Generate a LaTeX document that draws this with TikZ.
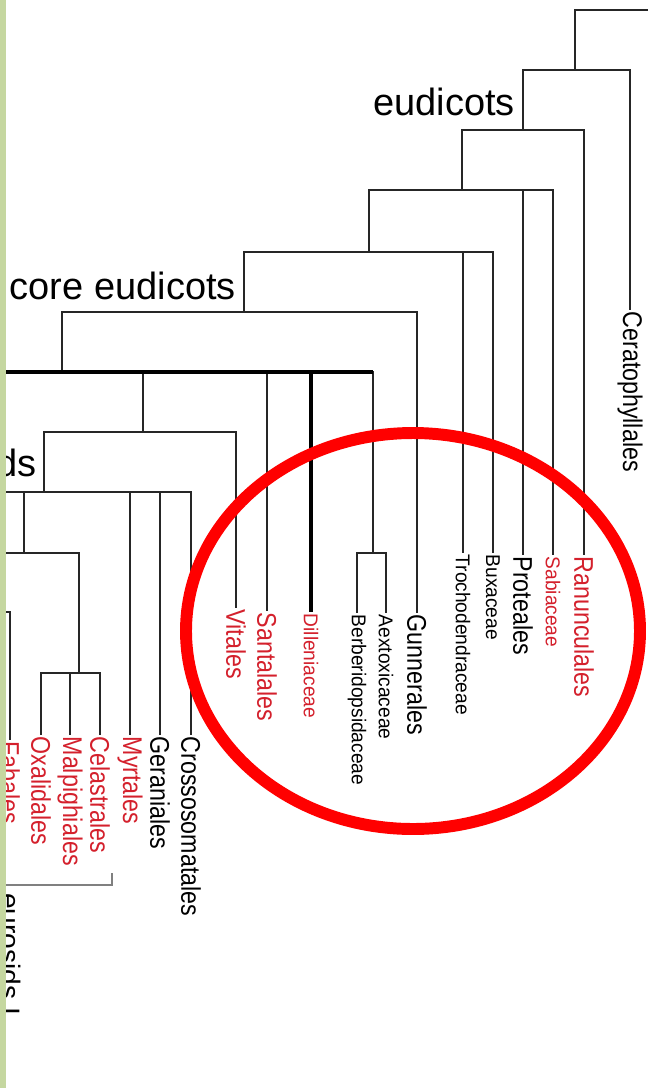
\documentclass[tikz,border=0pt]{standalone}
\usepackage{fontspec}
\setmainfont{Liberation Sans}
\newfontfamily\leaffont[FakeStretch=0.86]{Liberation Sans}
\newfontfamily\smallleaffont[FakeStretch=0.96]{Liberation Sans}
\definecolor{taxonred}{RGB}{212,32,44}
\definecolor{slidegreen}{RGB}{197,215,160}

\begin{document}
\begin{tikzpicture}[x=0.025cm, y=-0.025cm,
    branch/.style={line width=1.4pt, black!85},
    spine/.style={line width=3pt, black},
    leaf/.style={rotate=-90, anchor=west, inner sep=1pt,
        font=\leaffont\fontsize{19.2pt}{20pt}\selectfont},
    smallleaf/.style={leaf, font=\smallleaffont\fontsize{14.2pt}{15pt}\selectfont},
    clade/.style={anchor=east, inner sep=0pt, font=\fontsize{27pt}{28pt}\selectfont},
    hot/.style={text=taxonred},
    bracket/.style={line width=0.8pt, black!50}]
    \useasboundingbox (0,0) rectangle (648,1088);
    \fill[white] (0,0) rectangle (648,1088);
    \clip (0,0) rectangle (648,1088);

    % Branching points
    \coordinate (top) at (660,10);
    \coordinate (n1) at (575,70);
    \coordinate (eud) at (523,130);
    \coordinate (n3) at (462,190);
    \coordinate (n4) at (369,252);
    \coordinate (core) at (244,312);
    \coordinate (n6) at (62,372);
    \coordinate (berb) at (373,553);
    \coordinate (n7) at (143,432);
    \coordinate (ros) at (44,492);
    \coordinate (n10) at (24,553);
    \coordinate (n11) at (79,673);
    \coordinate (n12) at (-4,612);
    \coordinate (w6) at (-10,372);
    \coordinate (w9) at (-10,492);

    % Leaves
    \node[leaf] (cer) at (630,310) {Ceratophyllales};
    \node[leaf, hot] (ran) at (584,555) {Ranunculales};
    \node[smallleaf, hot] (sab) at (553,555) {Sabiaceae};
    \node[leaf] (pro) at (523,555) {Proteales};
    \node[smallleaf] (bux) at (493,553) {Buxaceae};
    \node[smallleaf] (tro) at (463,553) {Trochodendraceae};
    \node[leaf] (gun) at (417,613) {Gunnerales};
    \node[smallleaf] (aex) at (386,613) {Aextoxicaceae};
    \node[smallleaf] (ber) at (357,613) {Berberidopsidaceae};
    \node[smallleaf, hot] (dil) at (311,612) {Dilleniaceae};
    \node[leaf, hot] (san) at (267,611) {Santalales};
    \node[leaf, hot] (vit) at (236,608) {Vitales};
    \node[leaf] (cro) at (191,735) {Crossosomatales};
    \node[leaf] (ger) at (160,735) {Geraniales};
    \node[leaf, hot] (myr) at (130,735) {Myrtales};
    \node[leaf, hot] (cel) at (100,735) {Celastrales};
    \node[leaf, hot] (mal) at (70,735) {Malpighiales};
    \node[leaf, hot] (oxa) at (41,735) {Oxalidales};
    \node[leaf, hot] (fab) at (10,740) {Fabales};

    % Branches
    \draw[branch] (top) -| (n1);
    \draw[branch] (n1) -| (cer.west);
    \draw[branch] (n1) -| (eud);
    \draw[branch] (eud) -| (ran.west);
    \draw[branch] (eud) -| (n3);
    \draw[branch] (n3) -| (n4);
    \draw[branch] (n3) -| (pro.west);
    \draw[branch] (n3) -| (sab.west);
    \draw[branch] (n4) -| (core);
    \draw[branch] (n4) -| (tro.west);
    \draw[branch] (n4) -| (bux.west);
    \draw[branch] (core) -| (n6);
    \draw[branch] (core) -| (gun.west);
    \draw[branch] (n6) -| (n7);
    \draw[branch] (n6) -| (san.west);
    \draw[branch] (n6) -| (berb);
    \draw[branch] (berb) -| (ber.west);
    \draw[branch] (berb) -| (aex.west);
    \draw[branch] (n7) -| (ros);
    \draw[branch] (n7) -| (vit.west);
    \draw[branch] (ros) -- (w9);
    \draw[branch] (ros) -| (n10);
    \draw[branch] (ros) -| (myr.west);
    \draw[branch] (ros) -| (ger.west);
    \draw[branch] (ros) -| (cro.west);
    \draw[branch] (n10) -| (n11);
    \draw[branch] (n10) -| (n12);
    \draw[branch] (n12) -| (fab.west);
    \draw[branch] (n11) -| (oxa.west);
    \draw[branch] (n11) -| (mal.west);
    \draw[branch] (n11) -| (cel.west);
    % thick polytomy
    \draw[spine] (w6) -- (berb |- n6);
    \draw[spine] (n6) -| (dil.west);

    % Clade names
    \node[clade] (eudlab) at (515,102) {eudicots};
    \node[clade] (corelab) at (236,286) {core eudicots};
    \node[clade] (roslab) at (37,463) {rosids};
    \draw[bracket] (-10,885) -- (112,885) -- (112,873);
    \node[rotate=-90, anchor=base west, inner sep=0pt,
        font=\fontsize{20pt}{21pt}\selectfont] (eurlab) at (0,893) {eurosids I};

    % Slide edge and highlight
    \fill[slidegreen] (0,0) rectangle (6,1088);
    \draw[line width=8.5pt, red] (413,631) ellipse [x radius=227, y radius=198];
\end{tikzpicture}
\end{document}
